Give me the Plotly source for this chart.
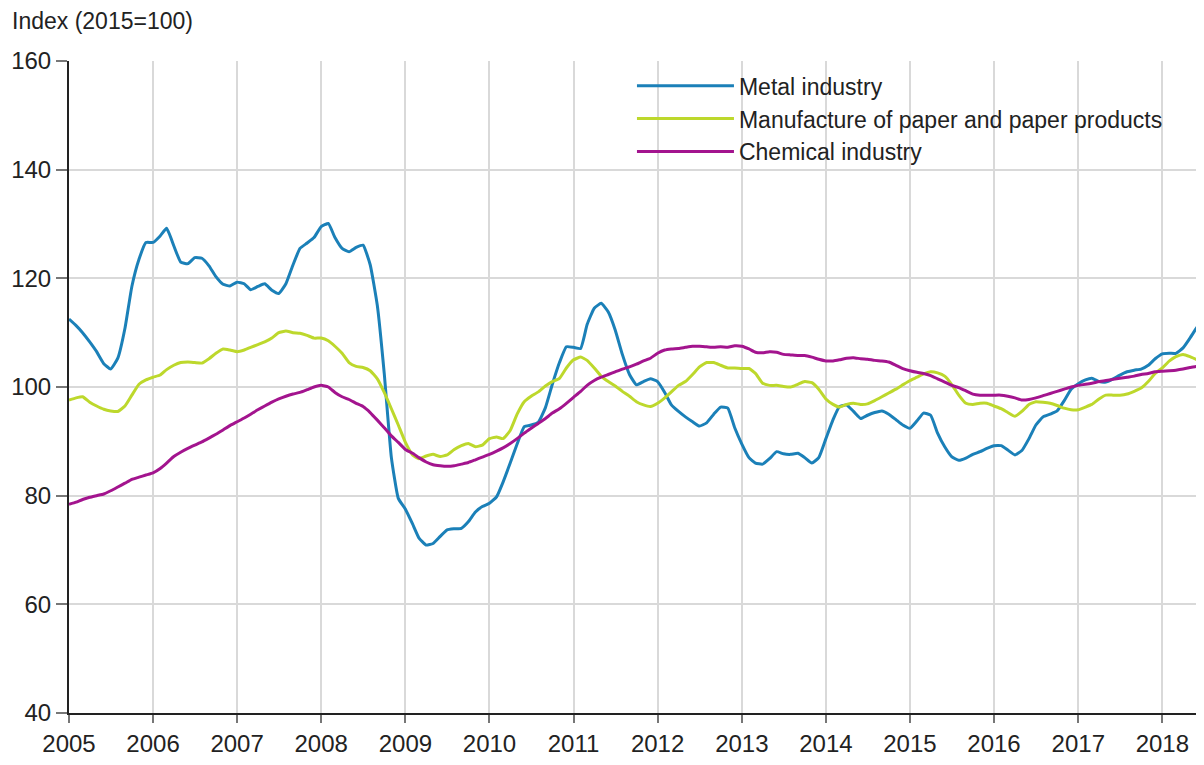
import pandas as pd
import plotly.graph_objects as go

months = pd.date_range("2005-01-01", "2018-07-01", freq="MS")

metal = [
    112.5, 111.3, 110.0, 108.3, 106.5, 104.3, 103.3, 105.3, 110.8, 118.5, 123.5, 126.6,  # 2005
    126.6, 127.8, 129.2, 126.0, 123.0, 122.7, 123.8, 123.7, 122.3, 120.3, 118.9, 118.6,  # 2006
    119.3, 119.0, 117.9, 118.5, 119.0, 117.8, 117.2, 119.0, 122.5, 125.5, 126.5, 127.5,  # 2007
    129.5, 130.1, 127.5, 125.5, 124.9, 125.7, 126.1, 122.5, 115.0, 102.5, 87.0, 79.5,    # 2008
    77.5, 74.8, 72.2, 70.9, 71.2, 72.5, 73.7, 73.9, 74.0, 75.2, 77.0, 78.0,              # 2009
    78.6, 79.8, 82.5, 86.0, 89.5, 92.7, 93.0, 93.5, 96.2, 100.5, 104.5, 107.4,           # 2010
    107.3, 107.1, 111.5, 114.5, 115.4, 113.8, 110.5, 106.0, 102.3, 100.4, 101.0, 101.5,  # 2011
    101.0, 99.0, 96.7, 95.5, 94.5, 93.6, 92.8, 93.4, 95.0, 96.3, 96.1, 92.5,             # 2012
    89.5, 87.0, 86.0, 85.8, 86.8, 88.1, 87.7, 87.6, 87.8, 87.0, 86.0, 87.0,              # 2013
    90.5, 94.0, 96.4, 96.7, 95.5, 94.2, 94.8, 95.3, 95.6, 95.0, 94.0, 93.0,              # 2014
    92.4, 93.8, 95.2, 94.8, 91.5, 89.0, 87.2, 86.5, 86.9, 87.6, 88.1, 88.7,              # 2015
    89.2, 89.2, 88.4, 87.5, 88.3, 90.5, 93.0, 94.5, 95.0, 95.6, 97.5, 99.6,              # 2016
    100.6, 101.3, 101.6, 101.0, 100.9, 101.5, 102.2, 102.8, 103.1, 103.3, 104.0, 105.2,  # 2017
    106.1, 106.2, 106.2, 107.2, 109.0, 111.0, 112.6,                                     # 2018
]

paper = [
    97.6, 98.0, 98.2, 97.2, 96.5, 95.9, 95.6, 95.5, 96.5, 98.5, 100.5, 101.3,
    101.8, 102.2, 103.2, 104.0, 104.5, 104.6, 104.5, 104.4, 105.2, 106.2, 107.0, 106.8,
    106.5, 106.8, 107.3, 107.8, 108.3, 109.0, 110.0, 110.3, 110.0, 109.9, 109.5, 109.0,
    109.0, 108.5, 107.5, 106.2, 104.5, 103.8, 103.6, 103.0, 101.5, 99.0, 96.0, 93.0,
    89.8, 87.5, 86.8, 87.3, 87.6, 87.2, 87.5, 88.5, 89.2, 89.6, 89.0, 89.3,
    90.5, 90.8, 90.5, 92.0, 95.0, 97.3, 98.3, 99.1, 100.2, 101.0, 101.6, 103.5,
    105.0, 105.5, 104.9, 103.5, 102.0, 101.0, 100.2, 99.2, 98.3, 97.3, 96.7, 96.4,
    97.0, 98.0, 99.1, 100.3, 101.0, 102.3, 103.7, 104.5, 104.5, 104.0, 103.5, 103.5,
    103.4, 103.4, 102.5, 100.7, 100.3, 100.3, 100.1, 100.0, 100.5, 101.0, 100.8, 99.6,
    97.8, 96.8, 96.3, 96.8, 97.0, 96.8, 96.9, 97.5, 98.2, 98.9, 99.6, 100.4,
    101.2, 101.8, 102.4, 102.8, 102.6, 102.0, 100.5, 98.5, 97.0, 96.8, 97.0, 97.0,
    96.5, 96.0, 95.3, 94.6, 95.5, 96.8, 97.3, 97.2, 97.0, 96.6, 96.1, 95.8,
    95.8, 96.3, 96.8, 97.8, 98.5, 98.5, 98.5, 98.7, 99.2, 99.8, 101.0, 102.5,
    103.5, 104.8, 105.6, 106.0, 105.6, 105.0, 104.7,
]

chemical = [
    78.4, 78.8, 79.3, 79.7, 80.0, 80.3, 80.9, 81.6, 82.3, 83.0, 83.4, 83.8,
    84.2, 85.0, 86.0, 87.2, 88.0, 88.7, 89.3, 89.9, 90.6, 91.3, 92.1, 92.9,
    93.6, 94.3, 95.0, 95.8, 96.5, 97.2, 97.8, 98.3, 98.7, 99.0, 99.5, 100.0,
    100.3, 100.0, 99.0, 98.2, 97.7, 97.0, 96.4, 95.3, 93.9, 92.5, 91.0, 89.8,
    88.5, 87.8, 87.0, 86.2, 85.7, 85.5, 85.4, 85.5, 85.8, 86.1, 86.6, 87.1,
    87.6, 88.2, 88.8, 89.6, 90.5, 91.5, 92.4, 93.3, 94.2, 95.2, 96.0, 97.0,
    98.1, 99.2, 100.3, 101.2, 101.8, 102.3, 102.8, 103.3, 103.7, 104.2, 104.8, 105.3,
    106.2, 106.8, 107.0, 107.1, 107.3, 107.5, 107.5, 107.4, 107.3, 107.4, 107.3, 107.6,
    107.5, 107.0, 106.4, 106.3, 106.5, 106.4, 106.0, 105.9, 105.8, 105.8, 105.5, 105.1,
    104.8, 104.8, 105.0, 105.3, 105.4, 105.2, 105.1, 104.9, 104.8, 104.6, 104.0, 103.4,
    103.0, 102.7, 102.5, 102.1, 101.5, 100.9, 100.3, 99.9, 99.3, 98.7, 98.5, 98.5,
    98.5, 98.5, 98.3, 98.0, 97.6, 97.7, 98.0, 98.4, 98.8, 99.2, 99.6, 100.0,
    100.3, 100.5, 100.7, 101.0, 101.2, 101.4, 101.6, 101.8, 102.0, 102.3, 102.5, 102.8,
    102.9, 103.0, 103.1, 103.3, 103.6, 103.8, 104.0,
]

series_names = ["Metal industry", "Manufacture of paper and paper products", "Chemical industry"]
series_colors = ["#1b80b8", "#bdd82c", "#a3148e"]
y_ticks = [40, 60, 80, 100, 120, 140, 160]
y_title = "Index (2015=100)"

FONT = "Liberation Sans, Arial, sans-serif"

fig = go.Figure()
for name, vals, col in zip(series_names, [metal, paper, chemical], series_colors):
    fig.add_trace(go.Scatter(
        x=months[:len(vals)], y=vals, mode="lines", name=name,
        line=dict(color=col, width=3, shape="spline", smoothing=0.4),
        hoverinfo="x+y+name",
    ))

fig.update_layout(
    width=1196, height=749,
    margin=dict(l=61, r=0, t=53, b=44, autoexpand=False),
    paper_bgcolor="white", plot_bgcolor="white",
    font=dict(family=FONT, size=23, color="#222222"),
    showlegend=True,
    legend=dict(
        x=0.496, y=0.995, xanchor="left", yanchor="top",
        bgcolor="rgba(0,0,0,0)", font=dict(size=23, color="#222222"),
        tracegroupgap=0, itemwidth=97,
    ),
    xaxis=dict(
        type="date",
        range=["2005-01-01", "2018-07-01"],
        dtick="M12", tick0="2005-01-01", tickformat="%Y",
        showgrid=True, gridcolor="#d9d9d9", gridwidth=2,
        ticks="outside", ticklen=8, tickcolor="#777777", tickwidth=2,
        showline=True, linecolor="#222222", linewidth=2,
        tickfont=dict(size=24, color="#222222"),
        zeroline=False,
    ),
    yaxis=dict(
        range=[40, 160],
        tickvals=y_ticks,
        showgrid=True, gridcolor="#d9d9d9", gridwidth=2,
        ticks="outside", ticklen=11, tickcolor="#777777", tickwidth=2,
        showline=True, linecolor="#222222", linewidth=2,
        tickfont=dict(size=24, color="#222222"),
        zeroline=False,
    ),
    annotations=[dict(
        text=y_title, xref="paper", yref="paper", x=0, y=1,
        xanchor="left", yanchor="middle", xshift=-59, yshift=40,
        showarrow=False, font=dict(size=23, color="#222222"),
    )],
)

fig.write_html("out.html")
